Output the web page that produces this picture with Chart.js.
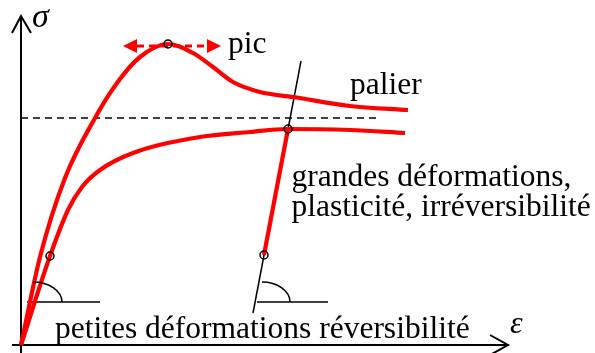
<!DOCTYPE html>
<html>
<head>
<meta charset="utf-8">
<script src="https://cdn.jsdelivr.net/npm/chart.js@4/dist/chart.umd.min.js"></script>
<style>
  html, body { margin: 0; padding: 0; background: #fff; overflow: hidden; }
</style>
</head>
<body>
<canvas id="c" width="595" height="353"></canvas>
<script>
// Strain ε (x) and stress σ (y) in drawing units measured from the origin.

// Loading curve with a stress peak followed by a softening plateau ("palier")
const peakStrain = [0, 19, 44, 74, 96, 119, 147, 172, 192, 212, 239, 272, 329, 387];
const peakStress = [0, 88, 167, 227, 262, 288, 301, 292, 278, 263, 253, 248, 239, 235];

// Hardening curve tending to the plateau level
const hardStrain = [0, 29, 47, 61, 79, 112, 179, 229, 267, 329, 384];
const hardStress = [0, 89, 135, 158, 175, 192, 208, 213, 216, 215, 212];

// Elastic unloading from the hardening curve
const unloadStrain = [267, 243];
const unloadStress = [216, 90];

// Thin elastic-slope guide through the unloading branch
const guideStrain = [232, 280];
const guideStress = [32, 284];

// Asymptotic plateau level (dashed)
const plateauStrain = [0, 357];
const plateauStress = [227, 227];

// Marked points: peak, start of unloading, end of small strains, end of unloading
const markStrain = [147, 267, 29, 243];
const markStress = [301, 216, 89, 90];

// Axes
const sigmaAxisStrain = [0, 0];
const sigmaAxisStress = [-8, 329];
const epsAxisStrain = [-9, 487];
const epsAxisStress = [0, 0];

// Annotations
const labelTexts = ['pic', 'palier', 'grandes déformations,', 'plasticité, irréversibilité',
                    'petites déformations réversibilité'];
const symbolTexts = ['σ', 'ε'];

const toPts = (xs, ys) => xs.map((x, i) => ({ x, y: ys[i] }));

function lineSet(xs, ys, color, width, extra) {
  return Object.assign({
    type: 'scatter',
    data: toPts(xs, ys),
    showLine: true,
    borderColor: color,
    borderWidth: width,
    pointRadius: 0,
    fill: false,
    tension: 0,
    borderCapStyle: 'butt',
    borderJoinStyle: 'round'
  }, extra || {});
}

const red = '#ff0000';
const black = '#000000';

const datasets = [
  // markers on top
  {
    type: 'scatter',
    data: toPts(markStrain, markStress),
    showLine: false,
    pointRadius: 4,
    pointBorderWidth: 1.5,
    pointBorderColor: black,
    pointBackgroundColor: 'rgba(0,0,0,0)',
    order: 0
  },
  lineSet(peakStrain, peakStress, red, 4.2, { cubicInterpolationMode: 'monotone', order: 1 }),
  lineSet(hardStrain, hardStress, red, 4.2, { cubicInterpolationMode: 'monotone', order: 1 }),
  lineSet(unloadStrain, unloadStress, red, 4.2, { order: 1 }),
  lineSet(guideStrain, guideStress, black, 1.5, { order: 2 }),
  lineSet(plateauStrain, plateauStress, black, 1.5, { borderDash: [7, 5], order: 2 }),
  // peak plateau extent (dashed red shaft)
  lineSet([116, 186], [299, 299], red, 3, { borderDash: [7, 5], order: 2 }),
  lineSet(sigmaAxisStrain, sigmaAxisStress, black, 2, { order: 3 }),
  lineSet(epsAxisStrain, epsAxisStress, black, 2, { order: 3 }),
  lineSet([-9, 0, 10], [312, 329, 312], black, 2, { order: 3, borderJoinStyle: 'miter' }),
  lineSet([469, 487, 469], [10, 0, -10], black, 2, { order: 3, borderJoinStyle: 'miter' }),
  // horizontal references for the slope angles
  lineSet([6, 79], [43, 43], black, 1.5, { order: 3 }),
  lineSet([236, 307], [43, 43], black, 1.5, { order: 3 })
];

const annotations = {
  id: 'annotations',
  afterDatasetsDraw(chart) {
    const ctx = chart.ctx;
    const xs = chart.scales.x, ys = chart.scales.y;
    const px = v => xs.getPixelForValue(v);
    const py = v => ys.getPixelForValue(v);
    ctx.save();

    // slope angle arcs
    ctx.strokeStyle = black;
    ctx.lineWidth = 1.5;
    [[12, 43, 29, 20], [241, 43, 28, 20]].forEach(([cx, cy, rx, ry]) => {
      ctx.beginPath();
      ctx.ellipse(px(cx), py(cy), px(cx + rx) - px(cx), py(cy) - py(cy + ry), 0, -Math.PI / 2, 0);
      ctx.stroke();
    });

    // filled arrowheads of the peak extent
    ctx.fillStyle = red;
    [[102, 116], [200, 186]].forEach(([tip, base]) => {
      ctx.beginPath();
      ctx.moveTo(px(tip), py(299));
      ctx.lineTo(px(base), py(299 + 7));
      ctx.lineTo(px(base), py(299 - 7));
      ctx.closePath();
      ctx.fill();
    });

    // text
    ctx.fillStyle = black;
    ctx.textBaseline = 'alphabetic';
    ctx.textAlign = 'left';
    ctx.font = '31.5px "Liberation Serif", "Times New Roman", serif';
    const pos = [[207, 292], [329, 251.5], [270.5, 159.5], [270.5, 129.5], [34, 7]];
    labelTexts.forEach((t, i) => ctx.fillText(t, px(pos[i][0]), py(pos[i][1])));

    ctx.font = 'italic 34px "Liberation Serif", "Times New Roman", serif';
    ctx.fillText(symbolTexts[0], px(11), py(318));
    ctx.font = 'italic 32px "Liberation Serif", "Times New Roman", serif';
    ctx.fillText(symbolTexts[1], px(489), py(12));
    ctx.restore();
  }
};

new Chart(document.getElementById('c'), {
  data: { datasets },
  options: {
    responsive: false,
    animation: false,
    events: [],
    layout: { padding: 0, autoPadding: false },
    plugins: { legend: { display: false }, tooltip: { enabled: false } },
    scales: {
      x: { type: 'linear', min: -21, max: 574, display: false },
      y: { type: 'linear', min: -8, max: 345, display: false }
    }
  },
  plugins: [annotations]
});
</script>
</body>
</html>
